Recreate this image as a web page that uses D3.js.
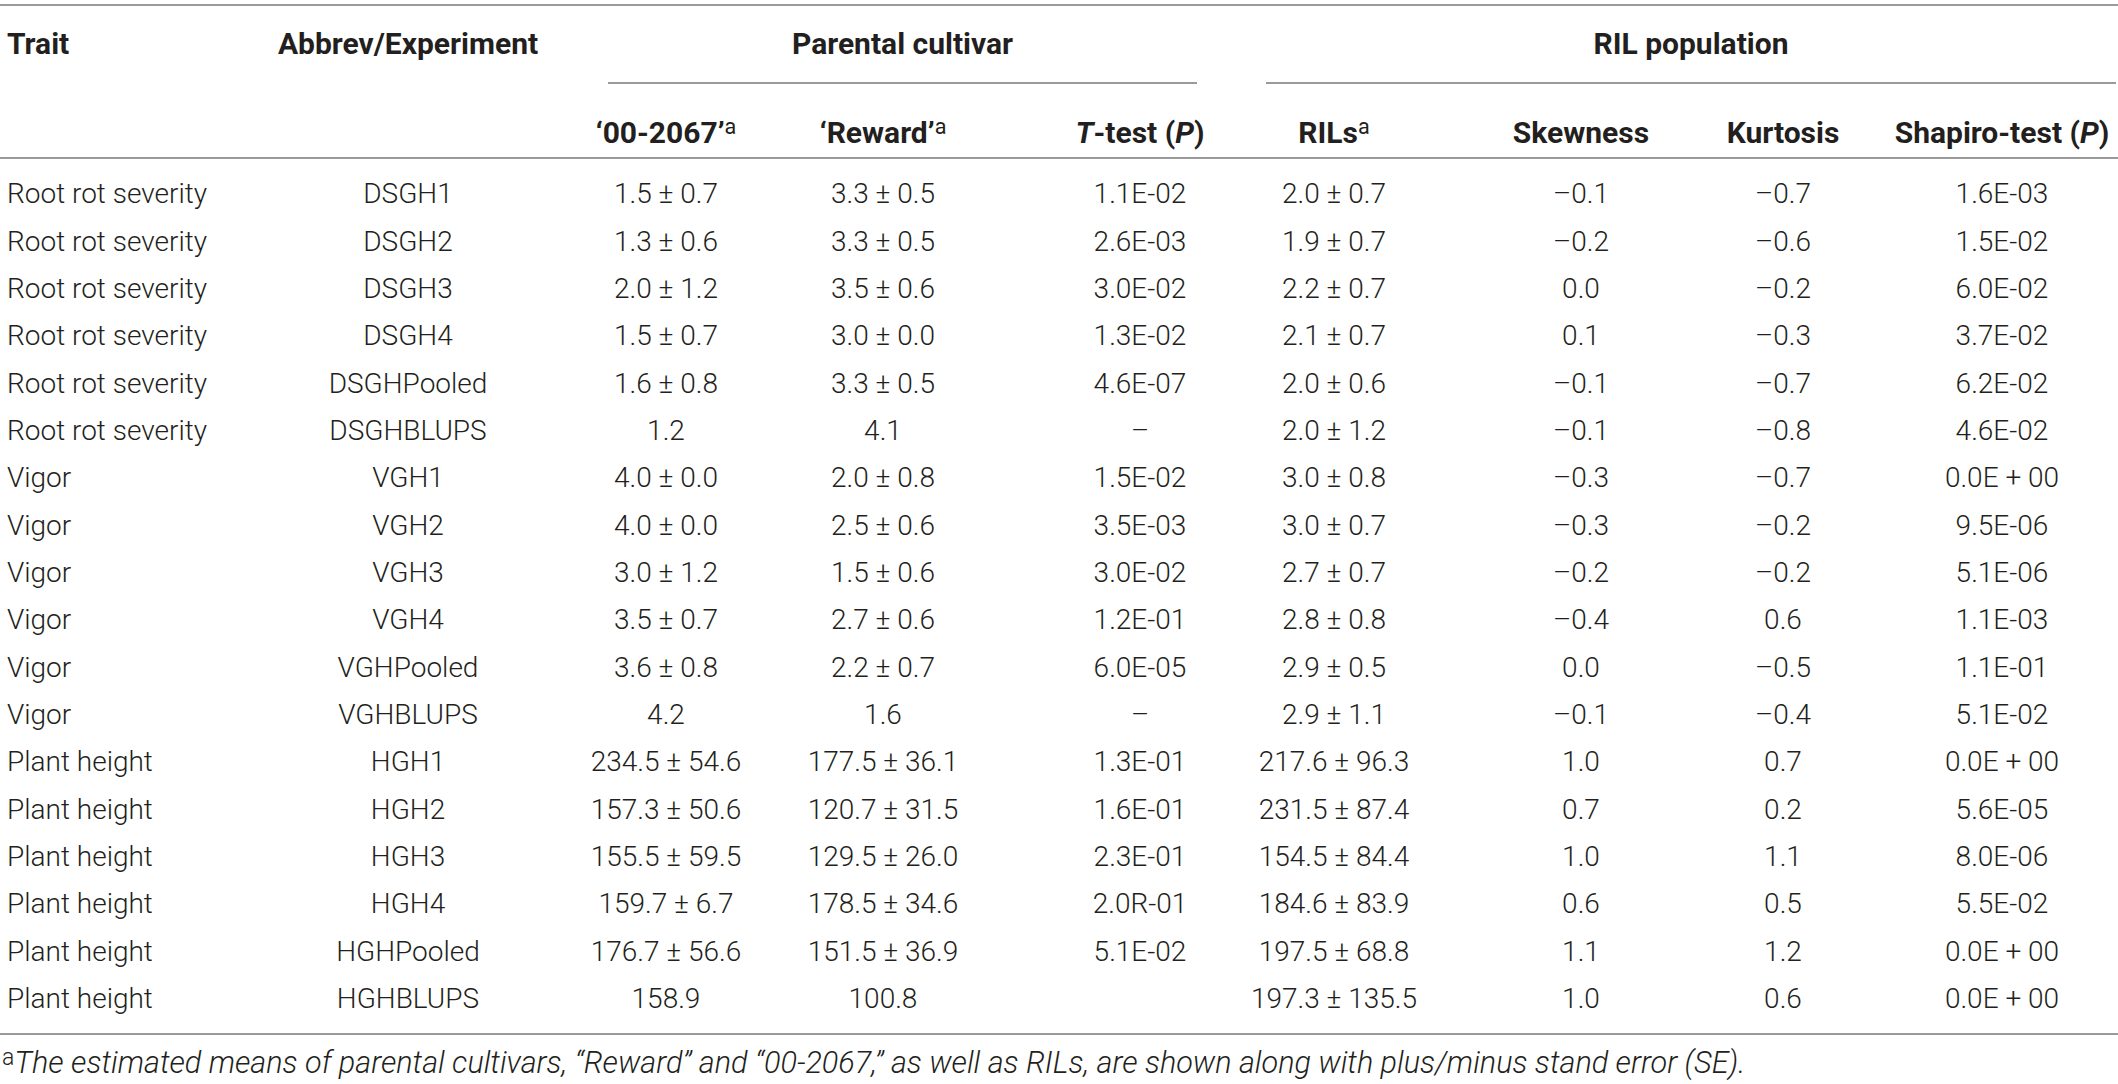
<!DOCTYPE html>
<html>
<head>
<meta charset="utf-8">
<script src="https://cdn.jsdelivr.net/npm/d3@7"></script>
<style>
  body { margin: 0; background: #fff; }
  svg text { font-family: Roboto, "Liberation Sans", sans-serif; fill: #231f20; }
</style>
</head>
<body>
<div id="svg_wrapper"></div>
<script>
const traits = ['Root rot severity','Root rot severity','Root rot severity','Root rot severity','Root rot severity','Root rot severity',
    'Vigor','Vigor','Vigor','Vigor','Vigor','Vigor',
    'Plant height','Plant height','Plant height','Plant height','Plant height','Plant height'];
const abbrevs = ['DSGH1','DSGH2','DSGH3','DSGH4','DSGHPooled','DSGHBLUPS',
    'VGH1','VGH2','VGH3','VGH4','VGHPooled','VGHBLUPS',
    'HGH1','HGH2','HGH3','HGH4','HGHPooled','HGHBLUPS'];
const p1Mean = [1.5, 1.3, 2.0, 1.5, 1.6, 1.2, 4.0, 4.0, 3.0, 3.5, 3.6, 4.2, 234.5, 157.3, 155.5, 159.7, 176.7, 158.9];
const p1SE   = [0.7, 0.6, 1.2, 0.7, 0.8, null, 0.0, 0.0, 1.2, 0.7, 0.8, null, 54.6, 50.6, 59.5, 6.7, 56.6, null];
const p2Mean = [3.3, 3.3, 3.5, 3.0, 3.3, 4.1, 2.0, 2.5, 1.5, 2.7, 2.2, 1.6, 177.5, 120.7, 129.5, 178.5, 151.5, 100.8];
const p2SE   = [0.5, 0.5, 0.6, 0.0, 0.5, null, 0.8, 0.6, 0.6, 0.6, 0.7, null, 36.1, 31.5, 26.0, 34.6, 36.9, null];
const tTest  = ['1.1E-02','2.6E-03','3.0E-02','1.3E-02','4.6E-07','–',
    '1.5E-02','3.5E-03','3.0E-02','1.2E-01','6.0E-05','–',
    '1.3E-01','1.6E-01','2.3E-01','2.0R-01','5.1E-02',''];
const rilMean = [2.0, 1.9, 2.2, 2.1, 2.0, 2.0, 3.0, 3.0, 2.7, 2.8, 2.9, 2.9, 217.6, 231.5, 154.5, 184.6, 197.5, 197.3];
const rilSE   = [0.7, 0.7, 0.7, 0.7, 0.6, 1.2, 0.8, 0.7, 0.7, 0.8, 0.5, 1.1, 96.3, 87.4, 84.4, 83.9, 68.8, 135.5];
const skewness = [-0.1, -0.2, 0.0, 0.1, -0.1, -0.1, -0.3, -0.3, -0.2, -0.4, 0.0, -0.1, 1.0, 0.7, 1.0, 0.6, 1.1, 1.0];
const kurtosis = [-0.7, -0.6, -0.2, -0.3, -0.7, -0.8, -0.7, -0.2, -0.2, 0.6, -0.5, -0.4, 0.7, 0.2, 1.1, 0.5, 1.2, 0.6];
const shapiro  = ['1.6E-03','1.5E-02','6.0E-02','3.7E-02','6.2E-02','4.6E-02',
    '0.0E + 00','9.5E-06','5.1E-06','1.1E-03','1.1E-01','5.1E-02',
    '0.0E + 00','5.6E-05','8.0E-06','5.5E-02','0.0E + 00','0.0E + 00'];

const colKeys = ['abbrev','p1','p2','ttest','ril','skew','kurt','shapiro'];
const footnote = 'The estimated means of parental cultivars, \u201cReward\u201d and \u201c00-2067,\u201d as well as RILs, are shown along with plus/minus stand error (SE).';

const width = 2118, height = 1084;
const fontSize = 28;
const headSize = 30;
const lineColor = '#9a9a9a';

const svg = d3.select('#svg_wrapper')
    .append('svg')
    .attr('width', width)
    .attr('height', height)
    .attr('viewBox', `0 0 ${width} ${height}`);

// column centres and row bands
const x = d3.scaleOrdinal()
    .domain(colKeys)
    .range([408, 666, 883, 1140, 1334, 1581, 1783, 2002]);

const y = d3.scaleBand()
    .domain(d3.range(traits.length))
    .range([170, 1022]);

const fmtMean = (m, se) => se == null ? m.toFixed(1) : `${m.toFixed(1)} \u00b1 ${se.toFixed(1)}`;
const fmtSigned = v => v < 0 ? '\u2013' + Math.abs(v).toFixed(1) : v.toFixed(1);

// rules
function hline(x1, x2, yy) {
    svg.append('line')
    .attr('x1', x1).attr('x2', x2)
    .attr('y1', yy).attr('y2', yy)
    .attr('stroke', lineColor)
    .attr('stroke-width', 2);
}
hline(0, width, 5);
hline(608, 1197, 83);
hline(1266, 2116, 83);
hline(0, width, 158);
hline(0, width, 1034);

// header
const head = svg.append('g')
    .attr('font-size', headSize)
    .attr('font-weight', 700);

head.append('text').attr('x', 7).attr('y', 43).attr('dy', '0.35em').text('Trait');
head.append('text').attr('x', x('abbrev')).attr('y', 43).attr('dy', '0.35em')
    .attr('text-anchor', 'middle').text('Abbrev/Experiment');
head.append('text').attr('x', (608 + 1197) / 2).attr('y', 43).attr('dy', '0.35em')
    .attr('text-anchor', 'middle').text('Parental cultivar');
head.append('text').attr('x', (1266 + 2116) / 2).attr('y', 43).attr('dy', '0.35em')
    .attr('text-anchor', 'middle').text('RIL population');

const subHeads = [
    { key: 'p1', parts: [['\u201800-2067\u2019', ''], ['a', 'sup']] },
    { key: 'p2', parts: [['\u2018Reward\u2019', ''], ['a', 'sup']] },
    { key: 'ttest', parts: [['T', 'i'], ['-test (', ''], ['P', 'i'], [')', '']] },
    { key: 'ril', parts: [['RILs', ''], ['a', 'sup']] },
    { key: 'skew', parts: [['Skewness', '']] },
    { key: 'kurt', parts: [['Kurtosis', '']] },
    { key: 'shapiro', parts: [['Shapiro-test (', ''], ['P', 'i'], [')', '']] }
];

subHeads.forEach(h => {
    const t = head.append('text')
        .attr('x', x(h.key))
        .attr('y', 132)
        .attr('dy', '0.35em')
        .attr('text-anchor', 'middle');
    h.parts.forEach(p => {
        const ts = t.append('tspan').text(p[0]);
        if (p[1] === 'i') ts.attr('font-style', 'italic');
        if (p[1] === 'sup') ts.attr('font-size', headSize * 0.72).attr('baseline-shift', '40%').attr('font-weight', 400);
    });
});

// body
const body = svg.append('g')
    .attr('font-size', fontSize)
    .attr('font-weight', 300);

const rows = body.selectAll('g.row')
    .data(d3.range(traits.length))
    .enter()
    .append('g')
    .attr('class', 'row')
    .attr('transform', i => `translate(0, ${y(i) + y.bandwidth() / 2})`);

rows.append('text').attr('x', 7).attr('dy', '0.35em').text(i => traits[i]);

const cells = [
    ['abbrev', i => abbrevs[i]],
    ['p1', i => fmtMean(p1Mean[i], p1SE[i])],
    ['p2', i => fmtMean(p2Mean[i], p2SE[i])],
    ['ttest', i => tTest[i]],
    ['ril', i => fmtMean(rilMean[i], rilSE[i])],
    ['skew', i => fmtSigned(skewness[i])],
    ['kurt', i => fmtSigned(kurtosis[i])],
    ['shapiro', i => shapiro[i]]
];

cells.forEach(c => {
    rows.append('text')
        .attr('x', x(c[0]))
        .attr('dy', '0.35em')
        .attr('text-anchor', 'middle')
        .text(c[1]);
});

// footnote
const fn = svg.append('text')
    .attr('x', 2)
    .attr('y', 1062)
    .attr('dy', '0.35em')
    .attr('font-size', 30.6)
    .attr('font-weight', 300);
fn.append('tspan').attr('font-size', 23).attr('baseline-shift', '35%').text('a');
fn.append('tspan').attr('font-style', 'italic').text(footnote);
</script>
</body>
</html>
